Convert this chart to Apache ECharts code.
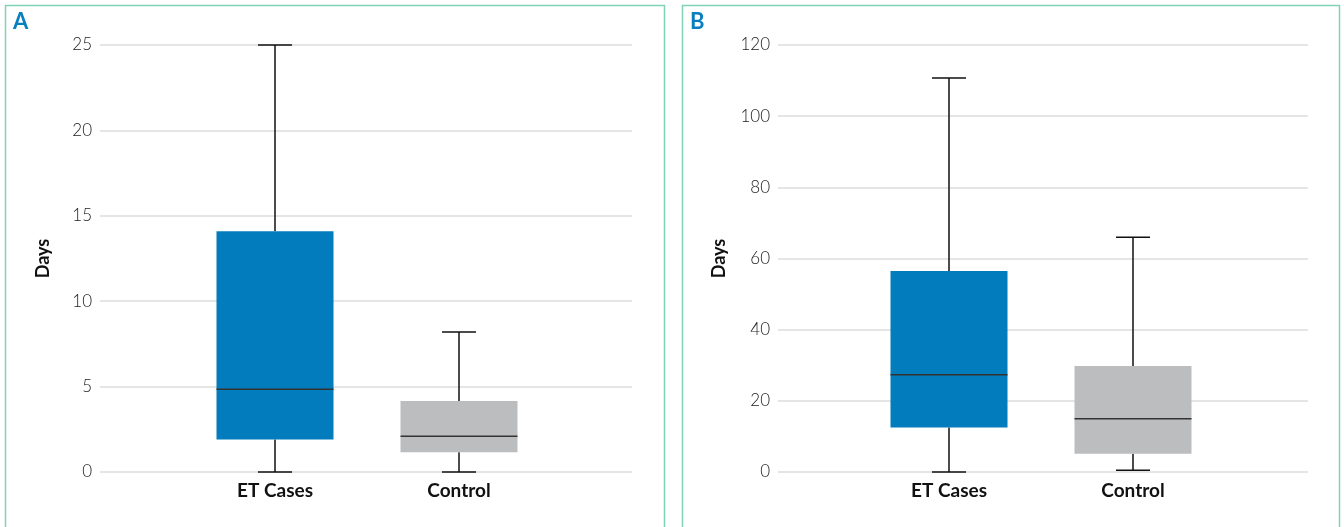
<!DOCTYPE html>
<html>
<head>
<meta charset="utf-8">
<script src="https://cdn.jsdelivr.net/npm/echarts@6/dist/echarts.min.js"></script>
<style>
html,body{margin:0;padding:0;background:#fff;}
#chart{width:1344px;height:527px;}
</style>
</head>
<body>
<div id="chart"></div>
<script>
var categories = ['ET Cases', 'Control'];
var boxColors = ['#027cbc', '#bcbdbf'];

// Panel A (Days)
var aMin = [0, 0];
var aQ1 = [1.9, 1.15];
var aMedian = [4.85, 2.1];
var aQ3 = [14.1, 4.15];
var aMax = [25, 8.2];
var aTicks = [0, 5, 10, 15, 20, 25];

// Panel B (Days)
var bMin = [0, 0.5];
var bQ1 = [12.5, 5.1];
var bMedian = [27.3, 15.0];
var bQ3 = [56.5, 29.8];
var bMax = [110.7, 66.0];
var bTicks = [0, 20, 40, 60, 80, 100, 120];

function rows(mn, q1, md, q3, mx) {
  return categories.map(function (c, i) { return [i, mn[i], q1[i], md[i], q3[i], mx[i]]; });
}

var BOX_W = 117, CAP_W = 34;
function renderBox(params, api) {
  var i = api.value(0);
  var pMin = api.coord([i, api.value(1)]);
  var pQ1 = api.coord([i, api.value(2)]);
  var pMed = api.coord([i, api.value(3)]);
  var pQ3 = api.coord([i, api.value(4)]);
  var pMax = api.coord([i, api.value(5)]);
  var x = pMed[0];
  var wl = {stroke: '#111', lineWidth: 1.5};
  return {
    type: 'group',
    children: [
      {type: 'line', shape: {x1: x, y1: pQ3[1], x2: x, y2: pMax[1]}, style: wl},
      {type: 'line', shape: {x1: x - CAP_W / 2, y1: pMax[1], x2: x + CAP_W / 2, y2: pMax[1]}, style: wl},
      {type: 'line', shape: {x1: x, y1: pQ1[1], x2: x, y2: pMin[1]}, style: wl},
      {type: 'line', shape: {x1: x - CAP_W / 2, y1: pMin[1], x2: x + CAP_W / 2, y2: pMin[1]}, style: wl},
      {type: 'rect', shape: {x: x - BOX_W / 2, y: pQ3[1], width: BOX_W, height: pQ1[1] - pQ3[1]},
        style: {fill: boxColors[i]}},
      {type: 'line', shape: {x1: x - BOX_W / 2, y1: pMed[1], x2: x + BOX_W / 2, y2: pMed[1]},
        style: {stroke: '#333', lineWidth: 1.5}}
    ]
  };
}

var tickFont = {fontFamily: 'Lato', fontWeight: 300, fontSize: 17, color: '#222'};
var nameFont = {fontFamily: 'Lato', fontWeight: 'bold', fontSize: 18, color: '#111'};
var catFont = {fontFamily: 'Lato', fontWeight: 'bold', fontSize: 19, color: '#111'};

function fullY(gi, max, interval, nameGap) {
  return {
    type: 'value', gridIndex: gi, min: 0, max: max, interval: interval,
    name: 'Days', nameLocation: 'middle', nameRotate: 90, nameGap: nameGap, nameTextStyle: nameFont,
    axisLine: {show: false}, axisTick: {show: false},
    axisLabel: Object.assign({margin: 8}, tickFont),
    splitLine: {lineStyle: {color: '#dcdcdc', width: 1.5}}
  };
}
function hiddenY(gi, max, interval) {
  return {type: 'value', gridIndex: gi, min: 0, max: max, interval: interval, show: false,
    splitLine: {show: false}};
}
function hiddenX(gi) {
  return {type: 'category', gridIndex: gi, data: categories, show: false};
}
function catX(gi) {
  return {type: 'category', gridIndex: gi, data: categories, boundaryGap: true,
    axisLine: {show: false}, axisTick: {show: false},
    axisLabel: Object.assign({margin: 9}, catFont), splitLine: {show: false}};
}

var option = {
  animation: false,
  backgroundColor: '#fff',
  grid: [
    {left: 100, width: 532, top: 45, bottom: 55},
    {left: 183, width: 368, top: 45, bottom: 55},
    {left: 778, width: 530, top: 45, bottom: 55},
    {left: 857, width: 368, top: 45, bottom: 55}
  ],
  xAxis: [hiddenX(0), catX(1), hiddenX(2), catX(3)],
  yAxis: [fullY(0, 25, 5, 48), hiddenY(1, 25, 5), fullY(2, 120, 20, 50), hiddenY(3, 120, 20)],
  series: [
    {type: 'custom', xAxisIndex: 1, yAxisIndex: 1, renderItem: renderBox,
      data: rows(aMin, aQ1, aMedian, aQ3, aMax), encode: {x: 0, y: [1, 2, 3, 4, 5]}},
    {type: 'custom', xAxisIndex: 3, yAxisIndex: 3, renderItem: renderBox,
      data: rows(bMin, bQ1, bMedian, bQ3, bMax), encode: {x: 0, y: [1, 2, 3, 4, 5]}}
  ],
  graphic: [
    {type: 'rect', shape: {x: 5.5, y: 5.5, width: 659, height: 540},
      style: {fill: 'none', stroke: '#7fd2b8', lineWidth: 1.5}, z: 0},
    {type: 'rect', shape: {x: 682.5, y: 5.5, width: 657, height: 540},
      style: {fill: 'none', stroke: '#7fd2b8', lineWidth: 1.5}, z: 0},
    {type: 'text', left: 13, top: 11,
      style: {text: 'A', fill: '#0a7fc0', font: 'bold 22px Lato'}},
    {type: 'text', left: 690, top: 11,
      style: {text: 'B', fill: '#0a7fc0', font: 'bold 22px Lato'}}
  ]
};

var chart = echarts.init(document.getElementById('chart'), null, {renderer: 'canvas'});
chart.setOption(option);
</script>
</body>
</html>
